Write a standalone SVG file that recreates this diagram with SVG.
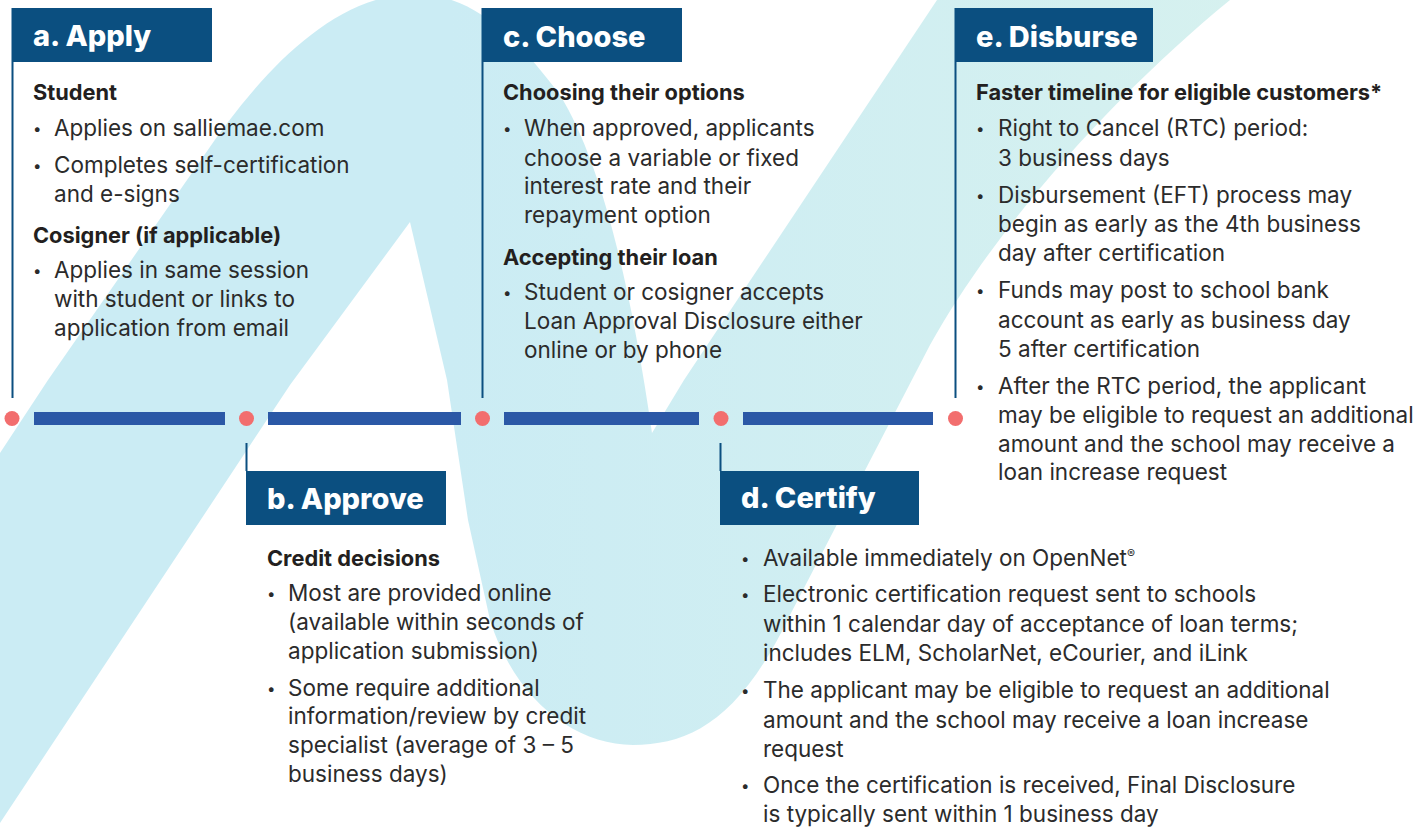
<svg xmlns="http://www.w3.org/2000/svg" width="1418" height="827" viewBox="0 0 1418 827">
<defs>
<linearGradient id="bg" gradientUnits="userSpaceOnUse" x1="450" y1="0" x2="1250" y2="0">
<stop offset="0" stop-color="#cbecf4"/>
<stop offset="1" stop-color="#d6f1ef"/>
</linearGradient>
<style>
.hb{fill:#0b4f80}
.h{font-family:Inter,"Liberation Sans",sans-serif;font-weight:800;font-size:29px;fill:#fff}
.sub{font-family:Inter,"Liberation Sans",sans-serif;font-weight:700;font-size:21.8px;fill:#231f20}
.t{font-family:Inter,"Liberation Sans",sans-serif;font-weight:400;font-size:22.5px;fill:#2b2b2b}
.bu{font-family:Inter,"Liberation Sans",sans-serif;font-size:15px;fill:#2b2b2b}
.vl{stroke:#0b4f80;stroke-width:2;fill:none}
.bar{fill:#2b58a6}
.dot{fill:#f26e6e}
</style>
</defs>
<rect width="1418" height="827" fill="#fff"/>
<path id="ribbon" fill="url(#bg)" d="M0 453 L48 380 L203 157 C255 80 330 -6 415 -6 C478 -6 522 45 560 95 C600 160 630 280 652 433 L684 380 L937 0 L1230 0 C1120 90 1000 220 930 345 L790 615 C740 720 690 745 633 745 C575 745 515 700 490 620 L468 520 L447 380 L410 222 L290 385 L0 823 Z"/>

<g id="connectors">
<line class="vl" x1="12.5" y1="8" x2="12.5" y2="398"/>
<line class="vl" x1="482.5" y1="8" x2="482.5" y2="398"/>
<line class="vl" x1="955.5" y1="8" x2="955.5" y2="398"/>
<line class="vl" x1="246.5" y1="443" x2="246.5" y2="471"/>
<line class="vl" x1="720.5" y1="443" x2="720.5" y2="471"/>
</g>

<g id="timeline">
<rect class="bar" x="34" y="412" width="191" height="13"/>
<rect class="bar" x="268" y="412" width="193" height="13"/>
<rect class="bar" x="504" y="412" width="195" height="13"/>
<rect class="bar" x="743" y="412" width="190" height="13"/>
<circle class="dot" cx="12" cy="418.5" r="7.5"/>
<circle class="dot" cx="246.5" cy="418.5" r="7.5"/>
<circle class="dot" cx="482.5" cy="418.5" r="7.5"/>
<circle class="dot" cx="721" cy="418.5" r="7.5"/>
<circle class="dot" cx="955.5" cy="418.5" r="7.5"/>
</g>

<g id="node-apply">
<rect class="hb" x="12" y="8" width="200" height="54"/>
<text class="h" x="33" y="46">a. Apply</text>
<text class="sub" x="33" y="100">Student</text>
<text class="bu" x="33" y="134">•</text>
<text class="t" x="54" y="136">Applies on salliemae.com</text>
<text class="bu" x="33" y="171">•</text>
<text class="t" x="54"><tspan x="54" y="173">Completes self-certification</tspan><tspan x="54" y="202">and e-signs</tspan></text>
<text class="sub" x="33" y="243">Cosigner (if applicable)</text>
<text class="bu" x="33" y="276">•</text>
<text class="t"><tspan x="54" y="278">Applies in same session</tspan><tspan x="54" y="307">with student or links to</tspan><tspan x="54" y="336">application from email</tspan></text>
</g>

<g id="node-approve">
<rect class="hb" x="246" y="471" width="200" height="54"/>
<text class="h" x="267" y="509">b. Approve</text>
<text class="sub" x="267" y="566">Credit decisions</text>
<text class="bu" x="267" y="599">•</text>
<text class="t"><tspan x="288" y="601">Most are provided online</tspan><tspan x="288" y="630">(available within seconds of</tspan><tspan x="288" y="659">application submission)</tspan></text>
<text class="bu" x="267" y="694">•</text>
<text class="t"><tspan x="288" y="696">Some require additional</tspan><tspan x="288" y="724">information/review by credit</tspan><tspan x="288" y="753">specialist (average of 3 – 5</tspan><tspan x="288" y="782">business days)</tspan></text>
</g>

<g id="node-choose">
<rect class="hb" x="482" y="8" width="200" height="54"/>
<text class="h" x="503" y="47">c. Choose</text>
<text class="sub" x="503" y="100">Choosing their options</text>
<text class="bu" x="503" y="134">•</text>
<text class="t"><tspan x="524" y="136">When approved, applicants</tspan><tspan x="524" y="166">choose a variable or fixed</tspan><tspan x="524" y="194">interest rate and their</tspan><tspan x="524" y="223">repayment option</tspan></text>
<text class="sub" x="503" y="265">Accepting their loan</text>
<text class="bu" x="503" y="298">•</text>
<text class="t"><tspan x="524" y="300">Student or cosigner accepts</tspan><tspan x="524" y="329">Loan Approval Disclosure either</tspan><tspan x="524" y="358">online or by phone</tspan></text>
</g>

<g id="node-certify">
<rect class="hb" x="720" y="471" width="199" height="54"/>
<text class="h" x="741" y="508">d. Certify</text>
<text class="bu" x="741" y="564">•</text>
<text class="t" x="763" y="566">Available immediately on OpenNet<tspan font-size="12" dy="-8">®</tspan></text>
<text class="bu" x="741" y="600">•</text>
<text class="t"><tspan x="763" y="602">Electronic certification request sent to schools</tspan><tspan x="763" y="632">within 1 calendar day of acceptance of loan terms;</tspan><tspan x="763" y="661">includes ELM, ScholarNet, eCourier, and iLink</tspan></text>
<text class="bu" x="741" y="696">•</text>
<text class="t"><tspan x="763" y="698">The applicant may be eligible to request an additional</tspan><tspan x="763" y="728">amount and the school may receive a loan increase</tspan><tspan x="763" y="757">request</tspan></text>
<text class="bu" x="741" y="791">•</text>
<text class="t"><tspan x="763" y="793">Once the certification is received, Final Disclosure</tspan><tspan x="763" y="822">is typically sent within 1 business day</tspan></text>
</g>

<g id="node-disburse">
<rect class="hb" x="955" y="8" width="198" height="54"/>
<text class="h" x="976" y="47">e. Disburse</text>
<text class="sub" x="976" y="100">Faster timeline for eligible customers*</text>
<text class="bu" x="976" y="134">•</text>
<text class="t"><tspan x="998" y="136">Right to Cancel (RTC) period:</tspan><tspan x="998" y="166">3 business days</tspan></text>
<text class="bu" x="976" y="201">•</text>
<text class="t"><tspan x="998" y="203">Disbursement (EFT) process may</tspan><tspan x="998" y="232">begin as early as the 4th business</tspan><tspan x="998" y="261">day after certification</tspan></text>
<text class="bu" x="976" y="296">•</text>
<text class="t"><tspan x="998" y="298">Funds may post to school bank</tspan><tspan x="998" y="328">account as early as business day</tspan><tspan x="998" y="357">5 after certification</tspan></text>
<text class="bu" x="976" y="392">•</text>
<text class="t"><tspan x="998" y="394">After the RTC period, the applicant</tspan><tspan x="998" y="423">may be eligible to request an additional</tspan><tspan x="998" y="452">amount and the school may receive a</tspan><tspan x="998" y="480">loan increase request</tspan></text>
</g>
</svg>
